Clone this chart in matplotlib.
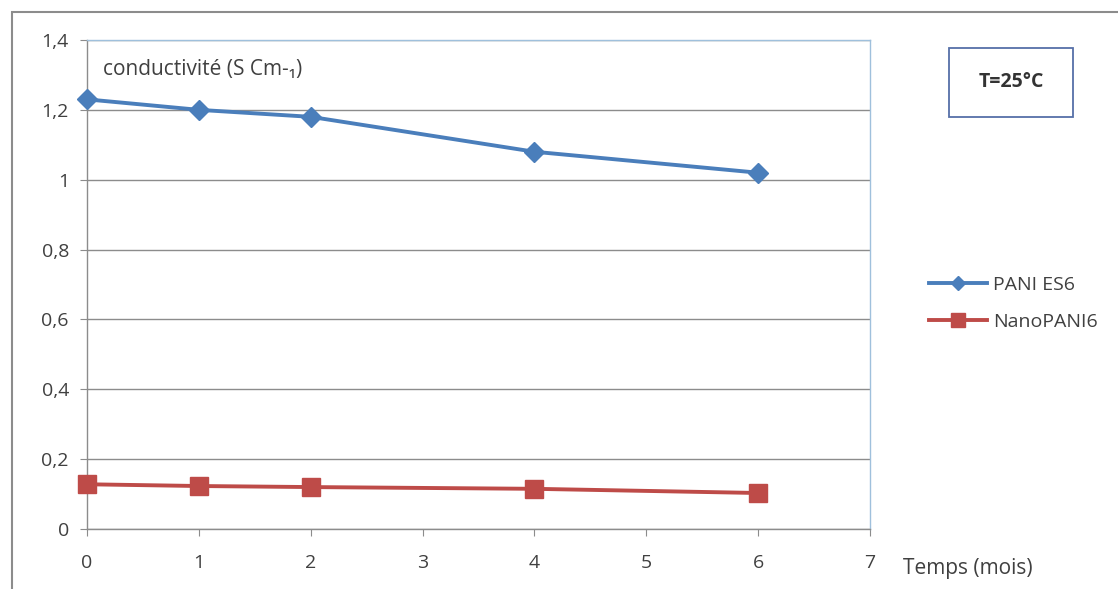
import matplotlib
matplotlib.use("Agg")
from matplotlib import pyplot as plt
from matplotlib.patches import Rectangle

plt.rcParams["font.family"] = ["Open Sans", "DejaVu Sans"]

months = [0, 1, 2, 4, 6]
pani_es6 = [1.23, 1.20, 1.18, 1.08, 1.02]
nano_pani6 = [0.128, 0.123, 0.120, 0.115, 0.103]
y_ticks = [0, 0.2, 0.4, 0.6, 0.8, 1, 1.2, 1.4]
y_labels = ["0", "0,2", "0,4", "0,6", "0,8", "1", "1,2", "1,4"]
x_ticks = [0, 1, 2, 3, 4, 5, 6, 7]

text_color = "#404040"
blue = "#4a7ebb"
red = "#be4b48"

fig = plt.figure(figsize=(11.18, 5.89), dpi=100, facecolor="white")
ax = fig.add_axes([0.0778, 0.1019, 0.7004, 0.8302])

ax.plot(months, pani_es6, color=blue, linewidth=2.8, marker="D",
        markersize=10, markerfacecolor=blue, markeredgecolor=blue,
        label="PANI ES6", zorder=3, clip_on=False)
ax.plot(months, nano_pani6, color=red, linewidth=2.8, marker="s",
        markersize=13, markerfacecolor=red, markeredgecolor=red,
        label="NanoPANI6", zorder=3, clip_on=False)

ax.set_xlim(0, 7)
ax.set_ylim(0, 1.4)
ax.set_yticks(y_ticks)
ax.set_yticklabels(y_labels)
ax.set_xticks(x_ticks)
ax.grid(axis="y", color="#8c8c8c", linewidth=1.0)
ax.set_axisbelow(True)

for side in ["top", "right"]:
    ax.spines[side].set_color("#9fc0dc")
    ax.spines[side].set_linewidth(1.0)
for side in ["left", "bottom"]:
    ax.spines[side].set_color("#8c8c8c")
    ax.spines[side].set_linewidth(1.0)

ax.tick_params(axis="both", colors="#8c8c8c", labelcolor=text_color,
               labelsize=14, length=5, direction="out")
ax.tick_params(axis="x", pad=13)
ax.tick_params(axis="y", pad=8)

ax.text(0.02, 0.94, "conductivité (S Cm-₁)", transform=ax.transAxes,
        fontsize=15, color=text_color, va="center", ha="left")

fig.text(0.808, 0.035, "Temps (mois)", fontsize=15, color=text_color,
         ha="left", va="center")

leg = fig.legend(loc="center left", bbox_to_anchor=(0.815, 0.485),
                 frameon=False, fontsize=14, handlelength=3.0,
                 labelspacing=1.0, handletextpad=0.3, markerscale=0.75)
for t in leg.get_texts():
    t.set_color(text_color)

fig.patches.append(Rectangle((0.849, 0.801), 0.111, 0.117,
                             transform=fig.transFigure, fill=False,
                             edgecolor="#5670a8", linewidth=1.3))
fig.text(0.9045, 0.86, "T=25°C", fontsize=14, fontweight="bold",
         color="#333333", ha="center", va="center")

# outer chart frame
fig.patches.append(Rectangle((0.011, -0.02), 1.0, 1.0,
                             transform=fig.transFigure, fill=False,
                             edgecolor="#8c8c8c", linewidth=1.5))

fig.savefig("out.png", dpi=100, facecolor=fig.get_facecolor())
plt.close(fig)
